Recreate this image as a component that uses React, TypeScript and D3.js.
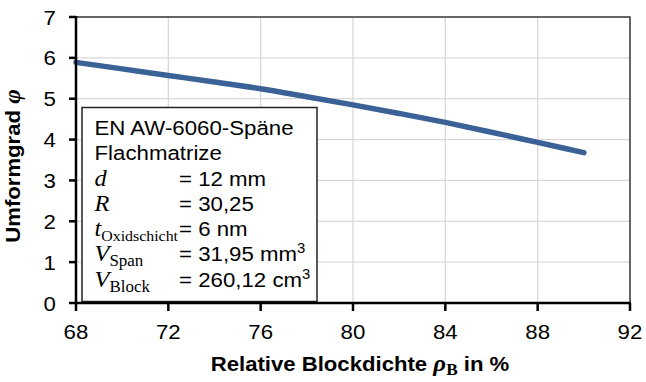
import React from "react";
import * as d3 from "d3";

const xValues = [68, 70, 72, 74, 76, 78, 80, 82, 84, 86, 88, 90];
const phiValues = [5.89, 5.73, 5.57, 5.41, 5.245, 5.05, 4.85, 4.64, 4.42, 4.18, 3.93, 3.68];
const xTicks = [68, 72, 76, 80, 84, 88, 92];
const yTicks = [0, 1, 2, 3, 4, 5, 6, 7];

const W = 646;
const H = 382;
const M = { left: 76, right: 630, top: 17, bottom: 303 };
const SANS = "'Liberation Sans', Arial, sans-serif";
const SERIF = "'Liberation Serif', 'Times New Roman', serif";
const K = 1.06;

function ST({ x, y, k = K, rotate = 0, children, ...rest }: any) {
  return (
    <g transform={`translate(${x},${y}) rotate(${rotate}) scale(${k},1)`}>
      <text x={0} y={0} {...rest}>{children}</text>
    </g>
  );
}

export default function App() {
  const x = d3.scaleLinear().domain([68, 92]).range([M.left, M.right]);
  const y = d3.scaleLinear().domain([0, 7]).range([M.bottom, M.top]);
  const line = d3
    .line<number>()
    .x((_, i) => x(xValues[i]))
    .y((d) => y(d))
    .curve(d3.curveMonotoneX);

  const fs = 21;
  const bx = 82, by = 107.5, bw = 235, bh = 194;
  const lx = 94.5, vx = (179 - lx) / K;
  const base0 = 135, step = 25.3;

  return (
    <svg width={W} height={H} style={{ position: "absolute", left: 0, top: 0, background: "#fff" }}>
      {xTicks.slice(1, -1).map((t) => (
        <line key={"gx" + t} x1={x(t)} x2={x(t)} y1={M.top} y2={M.bottom} stroke="#d9d9d9" strokeWidth={1.3} />
      ))}
      {yTicks.slice(1, -1).map((t) => (
        <line key={"gy" + t} x1={M.left} x2={M.right} y1={y(t)} y2={y(t)} stroke="#d9d9d9" strokeWidth={1.3} />
      ))}
      <rect x={M.left} y={M.top} width={M.right - M.left} height={M.bottom - M.top} fill="none" stroke="#333" strokeWidth={1.5} />
      <path d={line(phiValues) || ""} fill="none" stroke="#3a6296" strokeWidth={5.5} strokeLinecap="round" strokeLinejoin="round" />
      <rect x={bx} y={by} width={bw} height={bh} fill="#fff" stroke="#222" strokeWidth={1.5} />
      <g transform={`translate(${lx},0) scale(${K},1)`} fontFamily={SANS} fontSize={fs} fill="#000">
        <text x={0} y={base0}>EN AW-6060-Späne</text>
        <text x={0} y={base0 + step}>Flachmatrize</text>
        <text x={0} y={base0 + 2 * step} fontFamily={SERIF} fontStyle="italic" fontSize={23}>d</text>
        <text x={vx} y={base0 + 2 * step}>= 12 mm</text>
        <text x={0} y={base0 + 3 * step} fontFamily={SERIF} fontStyle="italic" fontSize={23}>R</text>
        <text x={vx} y={base0 + 3 * step}>= 30,25</text>
        <text x={0} y={base0 + 4 * step} fontFamily={SERIF} fontSize={23}>
          <tspan fontStyle="italic">t</tspan>
          <tspan fontSize={15} dy={5}>Oxidschicht</tspan>
        </text>
        <text x={vx} y={base0 + 4 * step}>= 6 nm</text>
        <text x={0} y={base0 + 5 * step} fontFamily={SERIF} fontSize={23}>
          <tspan fontStyle="italic">V</tspan>
          <tspan fontSize={16} dy={5}>Span</tspan>
        </text>
        <text x={vx} y={base0 + 5 * step}>
          = 31,95 mm<tspan fontSize={14} dy={-8}>3</tspan>
        </text>
        <text x={0} y={base0 + 6 * step} fontFamily={SERIF} fontSize={23}>
          <tspan fontStyle="italic">V</tspan>
          <tspan fontSize={16} dy={5}>Block</tspan>
        </text>
        <text x={vx} y={base0 + 6 * step}>
          = 260,12 cm<tspan fontSize={14} dy={-8}>3</tspan>
        </text>
      </g>
      <line x1={M.left} x2={M.left} y1={M.top - 1} y2={M.bottom + 1} stroke="#000" strokeWidth={2.5} />
      <line x1={M.left - 1} x2={M.right + 1} y1={M.bottom} y2={M.bottom} stroke="#000" strokeWidth={2.5} />
      {yTicks.map((t) => (
        <g key={"ty" + t}>
          <line x1={M.left - 7} x2={M.left} y1={y(t)} y2={y(t)} stroke="#000" strokeWidth={2.5} />
          <ST x={M.left - 20} y={y(t)} dy="0.36em" textAnchor="end" fontFamily={SANS} fontSize={fs}>{t}</ST>
        </g>
      ))}
      {xTicks.map((t) => (
        <g key={"tx" + t}>
          <line x1={x(t)} x2={x(t)} y1={M.bottom} y2={M.bottom + 8} stroke="#000" strokeWidth={2.5} />
          <ST x={x(t)} y={339} textAnchor="middle" fontFamily={SANS} fontSize={fs}>{t}</ST>
        </g>
      ))}
      <ST x={360} y={371} k={1.08} textAnchor="middle" fontFamily={SANS} fontSize={20.5} fontWeight="bold">
        Relative Blockdichte{" "}
        <tspan fontFamily={SERIF} fontStyle="italic" fontSize={23}>ρ</tspan>
        <tspan fontFamily={SERIF} fontSize={16} dy={4}>B</tspan>
        <tspan dy={-4}> in %</tspan>
      </ST>
      <ST x={20} y={166} k={1.08} rotate={-90} textAnchor="middle" fontFamily={SANS} fontSize={20.5} fontWeight="bold">
        Umformgrad <tspan fontFamily={SERIF} fontStyle="italic" fontSize={23}>φ</tspan>
      </ST>
    </svg>
  );
}
